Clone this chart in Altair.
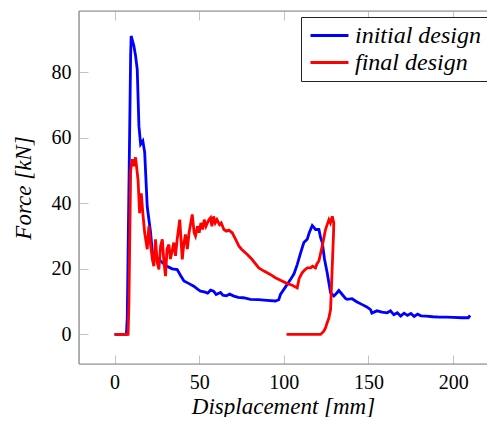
import altair as alt
import pandas as pd

# ---- data ----
series_names = ["initial design", "final design"]
series_colors = ["#0000ff", "#ff0000"]

blue_x = [0, 7, 7.5, 9.5, 9.8, 11.4, 12.4, 13.4, 14.4, 15.4, 16.7, 17.8, 19.3, 21.3, 22.3, 24, 26, 28,
          31, 34, 37, 39, 41, 44, 46.8, 49, 50.8, 53, 55, 56.7, 58.5, 60, 62.6, 64, 66, 68, 70.5, 73,
          76, 80.3, 85, 90, 95, 97, 98, 101, 104, 106, 107.9, 110, 111.8, 113.8, 115, 116.8, 118,
          118.7, 120.7, 121.7, 122.7, 124, 125.6, 127.6, 129.5, 131, 132.5, 134, 136.4, 137.4, 140.3,
          143, 146.3, 149, 151.2, 152, 155, 158, 161, 163, 165, 167, 169, 171, 173, 175, 177, 179,
          181, 184, 188, 192, 196, 200, 205, 209, 210]
blue_y = [0, 0, 5, 85, 91, 88, 85, 80.8, 63.5, 58, 59, 55.5, 39, 31, 25, 24, 23, 22,
          20.8, 20, 19.8, 18, 16.3, 15.5, 14.7, 13.8, 13.2, 13, 12.6, 13.5, 13.2, 12.2, 12.8, 12, 11.8, 12.3, 11.7, 11.3,
          11.2, 10.7, 10.6, 10.4, 10.2, 10.6, 12.2, 14.5, 16.8, 18.5, 21.3, 25, 28, 29, 31, 33.2, 32.5,
          32, 32, 29.5, 28, 23, 18.8, 12.7, 11.7, 12.5, 13.4, 12.5, 11, 10.7, 10.9,
          10, 9.1, 8.4, 7.6, 6.5, 7.2, 6.8, 6.6, 7.2, 6, 6.6, 5.6, 6.5, 5.8, 6.4, 5.5, 6.2,
          5.7, 5.6, 5.4, 5.3, 5.3, 5.2, 5.1, 5.1, 5.8]

red_x = [0, 8, 8.5, 9.5, 10.4, 11.4, 12.4, 13.9, 14.8, 15.8, 16.7, 17.8, 19.3, 20.3, 21.3, 22.3, 23.2,
         24.2, 25.2, 26.2, 27.2, 28.2, 29.2, 30.1, 31, 32.1, 33, 34, 35, 36, 37, 38.5, 40, 41, 41.9,
         43, 44, 45.9, 47, 47.8, 49, 50, 51, 52, 53, 54, 55.7, 56.7, 57.5, 58.5, 59.5, 60.5, 62, 63,
         64.6, 66, 67.5, 69.5, 71, 73.4, 75, 78.4, 81, 85.2, 88, 92, 95, 98, 102, 105, 107.9, 109,
         110.8, 112, 113.8, 115.8, 117, 118.7, 119.5, 120.7, 122.7, 124.6, 126.6, 127.5, 128.6,
         129.5, 129.3, 128.6, 127.6, 126.6, 125.6, 124.6, 123.6, 121.7, 101.6]
red_y = [0, 0, 10, 50, 53.4, 51.3, 54, 47, 37, 43, 37, 31, 26, 33, 27.4, 23, 20.8,
         29, 22, 19.8, 27, 29, 22, 17.8, 26, 27.4, 23, 25.4, 28, 24, 29, 35, 22.9, 28, 30.5,
         26, 31, 36.6, 31, 30, 33, 31, 34, 32, 35, 33, 35, 35.6, 33, 36, 34, 35, 33.5, 34,
         32, 31.5, 31.8, 31, 29.5, 27, 26, 24.4, 23, 20.3, 19.4, 18.3, 17.3, 16.5, 15.5, 15, 14.2, 17,
         18.8, 19.5, 20.3, 20.3, 20.8, 20.3, 21.5, 22.4, 27, 32, 35, 34, 36,
         34, 30, 20.8, 7.6, 5, 3.6, 2, 1, 0, 0]

x_ticks = [0, 50, 100, 150, 200]
y_ticks = [0, 20, 40, 60, 80]

df_blue = pd.DataFrame({"x": blue_x, "y": blue_y, "series": series_names[0],
                        "idx": range(len(blue_x))})
df_red = pd.DataFrame({"x": red_x, "y": red_y, "series": series_names[1],
                       "idx": range(len(red_x))})

W, H = 408, 353
SERIF = "Times New Roman"
TICK_LEN = 9
FRAME = "#888888"
TICKC = "#c4c4c4"

xscale = alt.Scale(domain=[-21, 220], nice=False, zero=False)
yscale = alt.Scale(domain=[-9, 98.6], nice=False, zero=False)

color_scale = alt.Scale(domain=series_names, range=series_colors)

legend = alt.Legend(
    title=None, orient="none", legendX=222, legendY=6,
    symbolType="M-1,0H2.45", symbolSize=484, symbolStrokeWidth=3,
    symbolOffset=2,
    labelFont=SERIF, labelFontStyle="italic", labelFontSize=24, labelColor="black",
    labelOffset=21, labelLimit=400,
    strokeColor="#222222", fillColor="white", padding=6, rowPadding=2,
)

x_bottom = alt.Axis(
    orient="bottom", values=x_ticks, offset=-TICK_LEN, tickSize=TICK_LEN, tickColor=TICKC,
    tickWidth=1, domain=False, grid=False, labelFont=SERIF, labelFontSize=20,
    labelColor="black", labelPadding=8, labelFlush=False,
    title="Displacement [mm]", titleFont=SERIF, titleFontStyle="italic",
    titleFontWeight="normal", titleFontSize=23, titleColor="black",
    titleY=58, titleBaseline="alphabetic",
)
x_top = alt.Axis(
    orient="top", values=x_ticks, offset=-TICK_LEN, tickSize=TICK_LEN, tickColor=TICKC,
    tickWidth=1, domain=False, grid=False, labels=False, title=None,
)
y_left = alt.Axis(
    orient="left", values=y_ticks, offset=-TICK_LEN, tickSize=TICK_LEN, tickColor=TICKC,
    tickWidth=1, domain=False, grid=False, labelFont=SERIF, labelFontSize=20,
    labelColor="black", labelPadding=8, labelFlush=False,
    title="Force [kN]", titleFont=SERIF, titleFontStyle="italic",
    titleFontWeight="normal", titleFontSize=23, titleColor="black",
    titleX=-58, titleY=H / 2, titleAngle=270, titleBaseline="alphabetic",
)

blue = alt.Chart(df_blue).mark_line(strokeWidth=2.8, clip=True).encode(
    x=alt.X("x:Q", scale=xscale, axis=x_bottom),
    y=alt.Y("y:Q", scale=yscale, axis=y_left),
    color=alt.Color("series:N", scale=color_scale, legend=legend),
    order=alt.Order("idx:Q"),
)
red = alt.Chart(df_red).mark_line(strokeWidth=2.8, clip=True).encode(
    x=alt.X("x:Q", scale=xscale, axis=x_top),
    y=alt.Y("y:Q", scale=yscale, axis=y_left),
    color=alt.Color("series:N", scale=color_scale, legend=legend),
    order=alt.Order("idx:Q"),
)

# frame on left, top and bottom (right side lies beyond the picture in the reference)
one = alt.Data(values=[{"k": 1}])
frame_left = alt.Chart(one).mark_rule(color=FRAME, strokeWidth=1.2).encode(
    x=alt.value(0), y=alt.value(0), y2=alt.value(H))
frame_top = alt.Chart(one).mark_rule(color=FRAME, strokeWidth=1.2).encode(
    y=alt.value(0), x=alt.value(0), x2=alt.value(W + 5))
frame_bottom = alt.Chart(one).mark_rule(color=FRAME, strokeWidth=1.2).encode(
    y=alt.value(H), x=alt.value(0), x2=alt.value(W + 5))

chart = alt.layer(blue, red, frame_left, frame_top, frame_bottom).resolve_axis(
    x="independent"
).properties(
    width=W, height=H,
    autosize=alt.AutoSizeParams(type="none"),
    padding={"left": 71, "top": 3, "right": 0, "bottom": 53},
).configure_view(stroke=None, strokeWidth=0).configure(background="white")

chart.save("out.html", embed_options={"renderer": "svg", "actions": False})
